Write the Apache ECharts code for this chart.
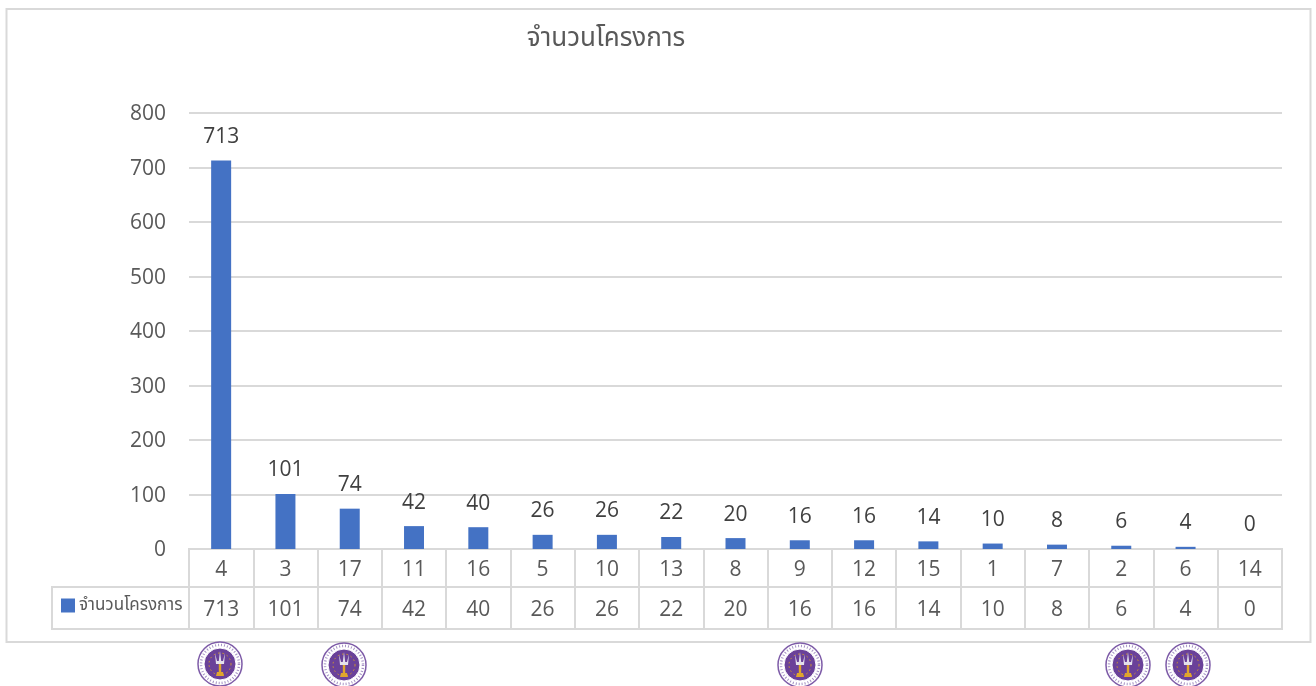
<!DOCTYPE html>
<html><head><meta charset="utf-8">
<style>html,body{margin:0;padding:0;background:#fff}#c{width:1316px;height:686px}</style>
<script src="https://cdn.jsdelivr.net/npm/echarts@6/dist/echarts.min.js"></script>
</head><body><div id="c"></div>
<script>
const seriesName = 'จำนวนโครงการ';
const categories = ['4','3','17','11','16','5','10','13','8','9','12','15','1','7','2','6','14'];
const values = [713,101,74,42,40,26,26,22,20,16,16,14,10,8,6,4,0];
const yTicks = {min:0,max:800,interval:100};
const font = '"Open Sans","Noto Sans","Noto Sans Thai",sans-serif';
const thaiFont = '"Noto Sans","Noto Sans Thai","Open Sans",sans-serif';
const GRID='#D9D9D9', TXT='#595959';
const L=189, W=1093;

function seal(cx,cy){
  return {type:'group',x:cx,y:cy,silent:true,children:[
    {type:'circle',shape:{r:22},style:{fill:'#fff',stroke:'#7E5CA8',lineWidth:1.5}},
    {type:'circle',shape:{r:19},style:{fill:'none',stroke:'#A592C4',lineWidth:2.5,lineDash:[1,2]}},
    {type:'circle',shape:{r:16},style:{fill:'#6A4199',stroke:'#fff',lineWidth:1}},
    {type:'circle',shape:{r:11},style:{fill:'none',stroke:'#D49A2A',lineWidth:1,lineDash:[1.5,3]}},
    {type:'polygon',shape:{points:[[-5,-11],[-3,-3],[-1.2,-3],[0,-13],[1.2,-3],[3,-3],[5,-11],[4,0],[-4,0]]},style:{fill:'#E4E1EC'}},
    {type:'rect',shape:{x:-1.2,y:0,width:2.4,height:8},style:{fill:'#E0A62C'}},
    {type:'polygon',shape:{points:[[-3,8],[3,8],[4,12],[-4,12]]},style:{fill:'#E0A62C'}}
  ]};
}
const sealCentres=[[220,664],[344,665],[800,665],[1128,665],[1188,665]];

const tableAxis=(i,data)=>({type:'category',gridIndex:i,data:data,boundaryGap:true,
  axisLine:{show:false},axisTick:{show:false},
  splitLine:{show:true,interval:0,lineStyle:{color:GRID,width:2}},
  axisLabel:{show:true,inside:true,interval:0,margin:i===1?6:8,color:TXT,fontFamily:font,fontSize:21,hideOverlap:false}});
const hiddenY=i=>({type:'value',gridIndex:i,show:false,min:0,max:1,splitLine:{show:false}});

const chart=echarts.init(document.getElementById('c'),null,{renderer:'canvas'});
chart.setOption({
  animation:false,backgroundColor:'#fff',
  title:{text:seriesName,left:601,top:21,textAlign:'center',
    textStyle:{color:TXT,fontSize:26,fontWeight:'normal',fontFamily:thaiFont}},
  legend:{show:true,left:61,top:597,itemWidth:14,itemHeight:14,itemGap:0,padding:0,icon:'rect',
    data:[seriesName],selectedMode:false,
    textStyle:{color:TXT,fontSize:17,fontFamily:thaiFont,padding:[0,0,0,-1]}},
  grid:[
    {left:L,top:113,width:W,height:436,show:false},
    {left:L,top:549,width:W,height:38,show:true,borderColor:GRID,borderWidth:2},
    {left:L,top:587,width:W,height:42,show:true,borderColor:GRID,borderWidth:2}
  ],
  xAxis:[
    {type:'category',gridIndex:0,data:categories,axisLabel:{show:false},axisTick:{show:false},
      axisLine:{show:true,lineStyle:{color:GRID,width:2}}},
    tableAxis(1,categories),
    tableAxis(2,values.map(String))
  ],
  yAxis:[
    {type:'value',gridIndex:0,min:yTicks.min,max:yTicks.max,interval:yTicks.interval,
      axisLine:{show:false},axisTick:{show:false},
      axisLabel:{margin:23,color:TXT,fontFamily:font,fontSize:21,verticalAlign:'top',padding:[-9,0,0,0]},
      splitLine:{lineStyle:{color:GRID,width:2}}},
    hiddenY(1),hiddenY(2)
  ],
  series:[{type:'bar',name:seriesName,xAxisIndex:0,yAxisIndex:0,data:values,barWidth:20,
    itemStyle:{color:'#4472C4'},
    label:{show:true,position:'top',distance:13,color:'#404040',fontFamily:font,fontSize:21}}],
  graphic:[
    {type:'rect',silent:true,z:-1,shape:{x:6.5,y:9,width:1304,height:633},style:{fill:'none',stroke:GRID,lineWidth:2}},
    {type:'rect',silent:true,z:-1,shape:{x:52,y:587,width:137,height:42},style:{fill:'none',stroke:GRID,lineWidth:2}},
    ...sealCentres.map(c=>seal(c[0],c[1]))
  ]
});
</script></body></html>
